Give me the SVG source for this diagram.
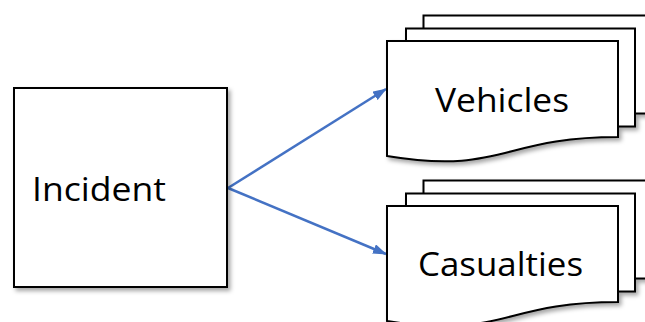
<svg xmlns="http://www.w3.org/2000/svg" width="645" height="322" viewBox="0 0 645 322">
  <style>
    .shape { fill: #ffffff; stroke: #000000; stroke-width: 2; stroke-linejoin: miter; }
    .label { font-family: "Open Sans", "Noto Sans", sans-serif; font-size: 32px; fill: #000000; }
    .conn { fill: none; stroke: #4472C4; stroke-width: 2.5; }
  </style>
  <defs>
    <filter id="shadow" x="-10%" y="-10%" width="130%" height="130%">
      <feDropShadow dx="2.5" dy="3" stdDeviation="2" flood-color="#000000" flood-opacity="0.35"/>
    </filter>
    <marker id="arrow" viewBox="0 0 14 10" refX="13" refY="5" markerWidth="14" markerHeight="10" markerUnits="userSpaceOnUse" orient="auto">
      <path d="M0,0 L14,5 L0,10 Z" fill="#4472C4"/>
    </marker>
    <g id="multidoc">
      <rect class="shape" x="36.5" y="-25.5" width="240" height="98"/>
      <rect class="shape" x="19" y="-12.5" width="229" height="98"/>
      <path class="shape" d="M0,0 H231 V96 C115,96 115,134 0,115 Z"/>
    </g>
  </defs>

  <g id="connectors">
    <line class="conn" x1="228" y1="188" x2="386" y2="89" marker-end="url(#arrow)"/>
    <line class="conn" x1="228" y1="188" x2="386" y2="254" marker-end="url(#arrow)"/>
  </g>

  <g id="incident">
    <rect class="shape" x="14" y="88" width="213" height="199" filter="url(#shadow)"/>
    <text class="label" x="32" y="201" textLength="134" lengthAdjust="spacingAndGlyphs">Incident</text>
  </g>

  <g id="vehicles">
    <g transform="translate(387,41)" filter="url(#shadow)">
      <use href="#multidoc"/>
    </g>
    <text class="label" x="435" y="112" textLength="134" lengthAdjust="spacingAndGlyphs">Vehicles</text>
  </g>

  <g id="casualties">
    <g transform="translate(387,206)" filter="url(#shadow)">
      <use href="#multidoc"/>
    </g>
    <text class="label" x="418" y="276" textLength="165" lengthAdjust="spacingAndGlyphs">Casualties</text>
  </g>
</svg>
